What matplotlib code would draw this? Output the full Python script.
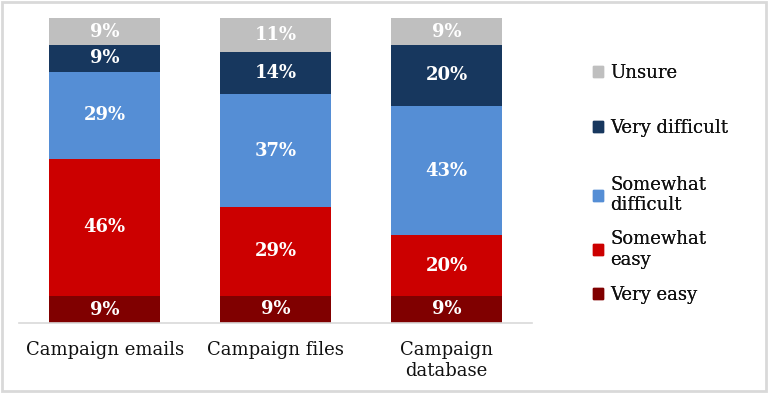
import matplotlib.pyplot as plt
import matplotlib.patches as mpatches
import numpy as np

plt.rcParams['font.family'] = ['DejaVu Serif']

categories = ['Campaign emails', 'Campaign files', 'Campaign\ndatabase']
series = ['Very easy', 'Somewhat easy', 'Somewhat difficult', 'Very difficult', 'Unsure']
legend_labels = ['Very easy', 'Somewhat\neasy', 'Somewhat\ndifficult', 'Very difficult', 'Unsure']
very_easy = [9, 9, 9]
somewhat_easy = [46, 29, 20]
somewhat_difficult = [29, 37, 43]
very_difficult = [9, 14, 20]
unsure = [9, 11, 9]
colors = ['#800000', '#cc0000', '#558ed5', '#17375e', '#bfbfbf']

vals = np.array([very_easy, somewhat_easy, somewhat_difficult, very_difficult, unsure], dtype=float)
shares = vals / vals.sum(axis=0) * 100

fig = plt.figure(figsize=(7.68, 3.93), dpi=100)
ax = fig.add_axes([0.025, 0.178, 0.668, 0.776])

x = np.arange(len(categories))
bottom = np.zeros(len(categories))
for i in range(len(series)):
    ax.bar(x, shares[i], 0.65, bottom=bottom, color=colors[i], linewidth=0)
    for j in range(len(categories)):
        ax.text(x[j], bottom[j] + shares[i][j] / 2, f'{int(vals[i][j])}%',
                ha='center', va='center', color='white', fontweight='bold', fontsize=13)
    bottom += shares[i]

ax.set_xlim(-0.5, 2.5)
ax.set_ylim(0, 100)
ax.set_xticks(x)
ax.set_xticklabels(categories, fontsize=13, color='#111111', linespacing=1.2)
ax.tick_params(axis='x', length=0, pad=13)
ax.set_yticks([])
for s in ['top', 'right', 'left']:
    ax.spines[s].set_visible(False)
ax.spines['bottom'].set_color('#d9d9d9')
ax.spines['bottom'].set_linewidth(1.2)

# legend entries spaced evenly from the top, Unsure first
tops = [0.838, 0.698, 0.553, 0.415, 0.273]
for k, i in enumerate(reversed(range(len(series)))):
    h = mpatches.Patch(color=colors[i])
    lg = fig.legend([h], [legend_labels[i]], loc='upper left', bbox_to_anchor=(0.772, tops[k]),
                    frameon=False, fontsize=13, handlelength=0.55, handleheight=0.55,
                    handletextpad=0.4, borderpad=0, borderaxespad=0, labelspacing=0)
    for t in lg.get_texts():
        t.set_color('#111111')
        t.set_linespacing(1.2)
    fig.add_artist(lg)

fig.patches.append(mpatches.Rectangle((0.002, 0.004), 0.995, 0.992, transform=fig.transFigure,
                                      fill=False, edgecolor='#d9d9d9', linewidth=2))

fig.savefig('out.png', dpi=100)
